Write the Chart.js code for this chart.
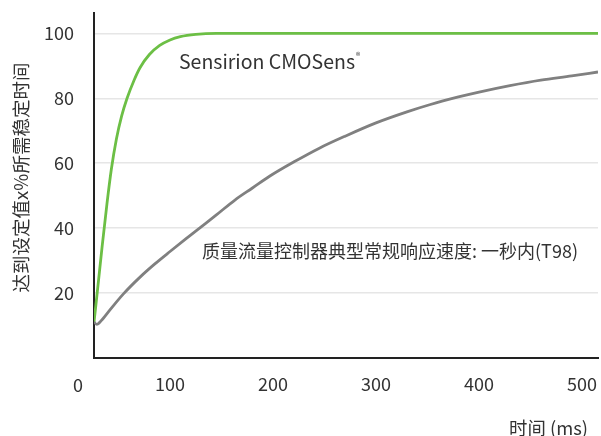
<!DOCTYPE html>
<html>
<head>
<meta charset="utf-8">
<script src="https://cdn.jsdelivr.net/npm/chart.js@4/dist/chart.umd.min.js"></script>
<style>
html,body{margin:0;padding:0;background:#fff;}
#wrap{width:601px;height:436px;}
</style>
</head>
<body>
<div id="wrap"><canvas id="c" width="601" height="436"></canvas></div>
<script>
// ---- data ----
const greenName = "Sensirion CMOSens";
const greenTime   = [26.2, 30, 34, 38.8, 43, 48, 53, 58.3, 65, 71, 80, 90, 100, 110, 125, 145, 200, 300, 400, 515.5];
const greenValues = [10.9, 22, 34, 47.5, 58, 67.5, 74.5, 80, 85.5, 89.5, 93.5, 96.3, 98, 99, 99.7, 100, 100, 100, 100, 100];

const grayName = "质量流量控制器典型常规响应速度: 一秒内(T98)";
const grayTime   = [26.2, 29, 33, 41.7, 55, 70.9, 85, 100, 115, 129, 145, 163, 180, 197, 220, 245, 270, 300, 330, 352, 380, 400, 430, 460, 490, 515.5];
const grayValues = [10.9, 10.2, 11.3, 14.7, 19.7, 24.8, 28.8, 32.7, 36.5, 40, 44, 48.6, 52.3, 56, 60.3, 64.6, 68.3, 72.4, 75.8, 78, 80.4, 81.9, 83.9, 85.6, 86.9, 88.1];

const xTickValues = [100, 200, 300, 400, 500];
const yTickValues = [20, 40, 60, 80, 100];
const xOriginLabel = "0";
const yTitle = "达到设定值x%所需稳定时间";
const xTitle = "时间 (ms)";

const FONT = '"Noto Sans CJK SC", "Noto Sans", sans-serif';

const toPts = (t, v) => t.map((x, i) => ({x: x, y: v[i]}));

const textPlugin = {
  id: 'texts',
  afterDraw(chart) {
    const ctx = chart.ctx;
    const xs = chart.scales.x;
    ctx.save();
    ctx.fillStyle = '#333';
    // origin "0"
    ctx.font = '18px ' + FONT;
    ctx.textAlign = 'center';
    ctx.textBaseline = 'middle';
    ctx.fillText(xOriginLabel, xs.left - 16, 385);
    // y title
    ctx.save();
    ctx.translate(21, 177.5);
    ctx.rotate(-Math.PI / 2);
    ctx.textAlign = 'center';
    ctx.font = '18.5px ' + FONT;
    ctx.fillText(yTitle, 0, 0);
    ctx.restore();
    // x title
    ctx.font = '18.4px ' + FONT;
    ctx.textAlign = 'right';
    ctx.fillText(xTitle, xs.right - 10, 428);
    // series labels
    ctx.textAlign = 'left';
    ctx.font = '19.5px ' + FONT;
    ctx.fillText(greenName, 179, 62);
    const w = ctx.measureText(greenName).width;
    ctx.font = '9px ' + FONT;
    ctx.fillText('®', 179 + w + 1, 56);
    ctx.font = '18px ' + FONT;
    ctx.fillText(grayName, 202, 251);
    ctx.restore();
  }
};

const noPad = s => { s.paddingTop = 0; s.paddingBottom = 0; s.paddingLeft = 0; s.paddingRight = 0; };

new Chart(document.getElementById('c'), {
  type: 'line',
  data: {
    datasets: [
      {
        label: grayName,
        data: toPts(grayTime, grayValues),
        borderColor: '#808080',
        borderWidth: 2.8,
        pointRadius: 0,
        cubicInterpolationMode: 'monotone',
        fill: false
      },
      {
        label: greenName,
        data: toPts(greenTime, greenValues),
        borderColor: '#6cbf45',
        borderWidth: 2.8,
        pointRadius: 0,
        cubicInterpolationMode: 'monotone',
        fill: false
      }
    ]
  },
  options: {
    responsive: false,
    animation: false,
    devicePixelRatio: 1,
    layout: { padding: { top: 12.7, right: 3, left: 0, bottom: 0 } },
    plugins: { legend: { display: false }, tooltip: { enabled: false } },
    scales: {
      x: {
        type: 'linear',
        min: 26.2,
        max: 515.5,
        afterBuildTicks: s => { s.ticks = xTickValues.map(v => ({value: v})); },
        afterFit: s => { s.height = 78.5; noPad(s); },
        grid: { display: false, drawTicks: false },
        border: { display: true, color: '#222', width: 2 },
        ticks: { font: { family: FONT, size: 18 }, color: '#333', padding: 16, maxRotation: 0 }
      },
      y: {
        type: 'linear',
        min: 0,
        max: 106.4,
        afterBuildTicks: s => { s.ticks = yTickValues.map(v => ({value: v})); },
        afterFit: s => { s.width = 94; noPad(s); },
        grid: { color: '#e6e6e6', lineWidth: 1.5, drawTicks: false },
        border: { display: true, color: '#222', width: 2 },
        ticks: { font: { family: FONT, size: 18 }, color: '#333', padding: 20 }
      }
    }
  },
  plugins: [textPlugin]
});
</script>
</body>
</html>
